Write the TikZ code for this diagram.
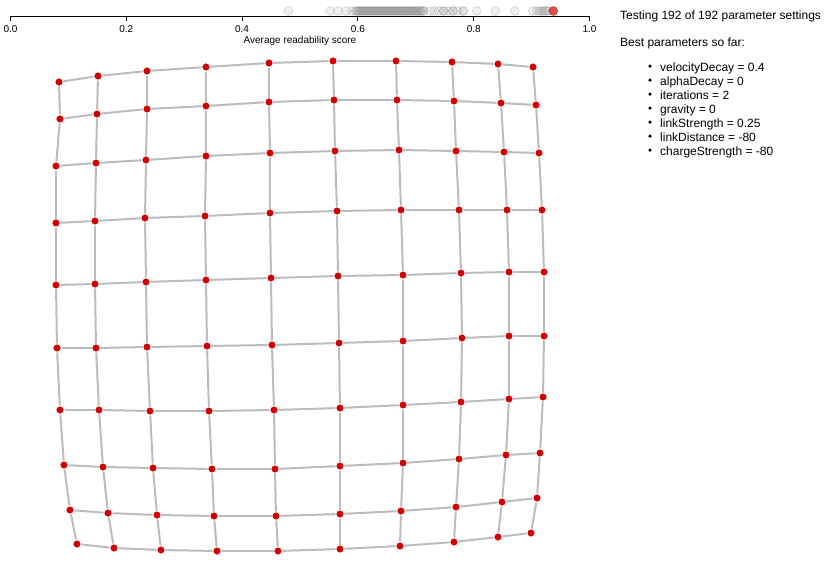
\documentclass[tikz,border=0pt]{standalone}
\usepackage{fontspec}
\setmainfont{Liberation Sans}
\usetikzlibrary{positioning}

\definecolor{nodered}{RGB}{210,0,0}
\definecolor{linkgray}{RGB}{188,188,188}
\definecolor{bestred}{RGB}{214,50,50}

\begin{document}
\begin{tikzpicture}[x=1pt, y=-1pt]
  \tikzset{dot/.style={circle, fill=nodered, draw=white, line width=0.8pt, minimum size=8.2pt, inner sep=0pt},
           gridlink/.style={draw=linkgray, line width=2pt},
           trial/.style={fill=gray, fill opacity=0.12, draw=gray, draw opacity=0.3, line width=0.6pt},
           txt/.style={font=\fontsize{12}{14}\selectfont, inner sep=0pt, text height=8.6pt, text depth=0pt, anchor=west},
           ticklbl/.style={font=\fontsize{10}{12}\selectfont, inner sep=0pt, text height=7.2pt, text depth=0pt},
           bul/.style={circle, fill=black, minimum size=3.6pt, inner sep=0pt}}
  \useasboundingbox (0,0) rectangle (825,562);

  % score axis
  \coordinate (ax0) at (10.5,16);
  \coordinate (ax1) at (589.5,16);
  \draw[line width=0.9pt] ([yshift=-5pt]ax0) -- (ax0) -- (ax1) -- ([yshift=-5pt]ax1);
  \foreach \t in {0.2,0.4,0.6,0.8}
    \draw[line width=0.9pt] ({10.5+579*\t},16) -- ++(0,5);
  \foreach \t [count=\i] in {0.0,0.2,0.4,0.6,0.8,1.0}
    \node[ticklbl] (tick\i) at ({10.5+579*\t},29) {\t};
  \node[ticklbl] (axtitle) at (300,39.5) {Average readability score};

  % tried settings
  \foreach \v in {0.480,0.552,0.566,0.580,0.590,0.725,0.732,0.740,0.748,0.756,0.764,0.772,0.782,
                  0.748,0.764,0.782,0.805,0.837,0.871,0.902,0.909,0.913,0.917,0.920,0.923,0.926,0.929}
    \draw[trial] ({10.5+579*\v},11) circle (4.4);
  \foreach \k in {0,1,2}
    \foreach \v in {0.596,0.602,...,0.716}
      \draw[trial] ({10.5+579*(\v+0.002*\k)},11) circle (4.4);
  \draw[fill=bestred, fill opacity=0.85, draw=bestred!80!black, draw opacity=0.5, line width=0.6pt]
    ({10.5+579*0.9375},11) circle (4.6);

  % grid layout
  \foreach \row [count=\r] in {
      {59/82,98/76,147/71,206/67,269/63,333/61,396/61,452/62,498/64,533/67},
      {60/119,97/114,147/109,206/106,269/102,334/100,397/100,454/101,501/103,536/105},
      {56/166,96/163,146/160,206/156,270/153,335/151,399/150,456/151,504/152,539/153},
      {56/223,95/221,145/218,205/216,270/213,337/211,401/210,459/210,507/210,542/210},
      {56/285,95/284,146/282,206/280,271/278,338/276,403/275,461/273,509/272,544/272},
      {57/348,96/348,147/347,207/346,272/345,339/343,403/341,462/338,509/336,544/336},
      {60/410,99/410,150/411,209/411,274/410,340/408,403/405,461/402,509/399,543/397},
      {64/465,103/467,153/468,212/469,275/469,340/466,403/463,459/459,506/455,540/453},
      {70/510,108/513,157/515,214/516,276/516,340/514,401/511,456/507,502/502,537/498},
      {77/544,114/548,161/550,217/551,278/551,340/549,400/546,454/542,498/537,531/533}}
    \foreach \x/\y [count=\c] in \row
      \node[dot] (n-\r-\c) at (\x,\y) {};
  \foreach \i in {1,...,10} {
    \foreach \j in {1,...,9} {
      \pgfmathtruncatemacro\nj{\j+1}
      \draw[gridlink] (n-\i-\j) -- (n-\i-\nj);
      \draw[gridlink] (n-\j-\i) -- (n-\nj-\i);
    }
  }

  % status panel
  \node[txt] (status) at (620,15) {Testing 192 of 192 parameter settings};
  \node[txt, below=26.7pt of status.west, anchor=west] (best) {Best parameters so far:};
  \foreach \param [count=\i] in {velocityDecay = 0.4, alphaDecay = 0, iterations = 2, gravity = 0,
                                 linkStrength = 0.25, linkDistance = -80, chargeStrength = -80} {
    \node[txt] (item\i) at (660,{66.7+14*(\i-1)}) {\param};
    \node[bul] (b\i) at ([xshift=-10pt, yshift=0.6pt]item\i.west) {};
  }
\end{tikzpicture}
\end{document}
